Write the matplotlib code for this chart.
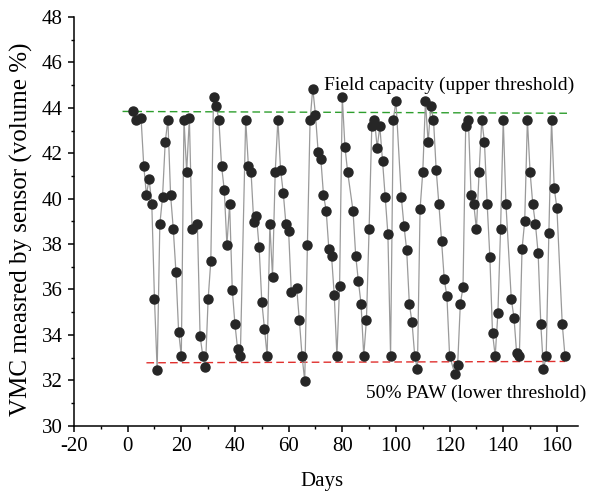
import numpy as np
import matplotlib
matplotlib.use("Agg")
import matplotlib.pyplot as plt
from matplotlib.ticker import MultipleLocator

# sensor readings (volumetric water content, %) and the day of each reading
days = [
    2, 3, 5, 6, 7, 8, 9, 10, 11, 12,
    13, 14, 15, 16, 17, 18, 19, 20, 21, 22,
    23, 24, 26, 27, 28, 29, 30, 31, 32, 33,
    34, 35, 36, 37, 38, 39, 40, 41, 42, 44,
    45, 46, 47, 48, 49, 50, 51, 52, 53, 54,
    55, 56, 57, 58, 59, 60, 61, 63, 64, 65,
    66, 67, 68, 69, 70, 71, 72, 73, 74, 75,
    76, 77, 78, 79, 80, 81, 82, 84, 85, 86,
    87, 88, 89, 90, 91, 92, 93, 94, 95, 96,
    97, 98, 99, 100, 102, 103, 104, 105, 106, 107,
    108, 109, 110, 111, 112, 113, 114, 115, 116, 117,
    118, 119, 120, 122, 123, 124, 125, 126, 127, 128,
    129, 130, 131, 132, 133, 134, 135, 136, 137, 138,
    139, 140, 141, 143, 144, 145, 146, 147, 148, 149,
    150, 151, 152, 153, 154, 155, 156, 157, 158, 159,
    160, 162, 163,
]
vmc = [
    43.87, 43.48, 43.55, 41.45, 40.17, 40.86, 39.77, 35.57, 32.45, 38.87,
    40.07, 42.48, 43.48, 40.17, 38.67, 36.77, 34.14, 33.07, 43.48, 41.17,
    43.55, 38.65, 38.87, 33.96, 33.07, 32.57, 35.57, 37.26, 44.48, 44.07,
    43.48, 41.45, 40.39, 37.96, 39.77, 35.98, 34.46, 33.36, 33.07, 43.48,
    41.45, 41.17, 38.96, 39.25, 37.86, 35.46, 34.26, 33.07, 38.87, 36.57,
    41.17, 43.48, 41.27, 40.26, 38.87, 38.56, 35.90, 36.08, 34.65, 33.07,
    31.97, 37.96, 43.45, 44.85, 43.70, 42.07, 41.76, 40.16, 39.47, 37.77,
    37.48, 35.76, 33.07, 36.16, 44.48, 42.27, 41.17, 39.47, 37.49, 36.37,
    35.36, 33.08, 34.65, 38.67, 43.18, 43.48, 42.25, 43.18, 41.67, 40.07,
    38.45, 33.08, 43.48, 44.29, 40.07, 38.80, 37.74, 35.36, 34.55, 33.08,
    32.48, 39.55, 41.17, 44.29, 42.48, 44.07, 43.48, 41.27, 39.77, 38.15,
    36.46, 35.69, 33.08, 32.26, 32.67, 35.36, 36.10, 43.18, 43.48, 40.17,
    39.77, 38.65, 41.17, 43.48, 42.48, 39.77, 37.45, 34.07, 33.07, 34.95,
    38.65, 43.48, 39.77, 35.57, 34.76, 33.18, 33.07, 37.77, 39.02, 43.48,
    41.17, 39.77, 38.87, 37.60, 34.46, 32.48, 33.07, 38.48, 43.48, 40.46,
    39.58, 34.46, 33.08,
]

# threshold lines (start/end day and value)
upper_days = [-1.9, 164]
upper_vals = [43.84, 43.76]
lower_days = [7.0, 163]
lower_vals = [32.77, 32.83]

plt.rcParams['font.family'] = ['Liberation Serif', 'DejaVu Serif']
plt.rcParams['axes.unicode_minus'] = False

fig = plt.figure(figsize=(6.11, 4.94), dpi=100)
ax = fig.add_axes([0.1211, 0.1383, 0.8255, 0.8273])

ax.plot(days, vmc, color='#9a9a9a', lw=0.9, zorder=2)
ax.plot(days, vmc, 'o', color='#262626', ms=6.5, mec='#262626', zorder=3)

ax.plot(upper_days, upper_vals, '--', color='#2e9e2e', lw=1.0, dashes=(5.5, 3), zorder=1)
ax.plot(lower_days, lower_vals, '--', color='#e0302e', lw=1.0, dashes=(5.5, 3), zorder=1)

ax.text(73.2, 45.0, 'Field capacity (upper threshold)', fontsize=14,
        va='center', ha='left')
ax.text(88.8, 31.43, '50% PAW (lower threshold)', fontsize=14,
        va='center', ha='left')

ax.set_xlim(-20, 168)
ax.set_ylim(30, 48)
ax.xaxis.set_major_locator(MultipleLocator(20))
ax.xaxis.set_minor_locator(MultipleLocator(10))
ax.yaxis.set_major_locator(MultipleLocator(2))
ax.yaxis.set_minor_locator(MultipleLocator(1))

for side in ['top', 'right']:
    ax.spines[side].set_visible(False)
for side in ['left', 'bottom']:
    ax.spines[side].set_linewidth(1.1)

ax.tick_params(which='major', direction='out', length=4.5, width=1.1,
               labelsize=15)
ax.tick_params(which='minor', direction='out', length=2.5, width=1.0)

ax.set_xlabel('Days', fontsize=15)
ax.set_ylabel('VMC measred by sensor (volume %)', fontsize=18)
ax.xaxis.set_label_coords(0.491, -0.113)
ax.yaxis.set_label_coords(-0.081, 0.48)

fig.savefig('out.png', dpi=100)
